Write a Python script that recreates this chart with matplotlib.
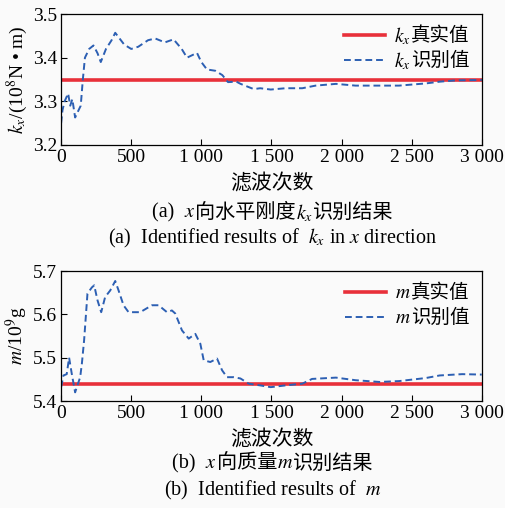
import matplotlib
matplotlib.use("Agg")
import matplotlib.pyplot as plt
import numpy as np

plt.rcParams['font.family'] = ['Liberation Serif', 'Noto Sans CJK SC']
plt.rcParams['mathtext.fontset'] = 'stix'
plt.rcParams['font.size'] = 14

# ---- data ----
kx_true = 3.35
kx_iter = [0, 10, 25, 50, 65, 80, 100, 125, 140, 155, 170, 200, 231, 260, 283, 320, 360, 386,
           450, 500, 550, 620, 671, 740, 802, 860, 898, 969, 1000, 1040, 1100, 1150, 1190, 1250,
           1280, 1374, 1420, 1495, 1600, 1720, 1815, 1960, 2100, 2250, 2410, 2600, 2700, 2815, 3000]
kx_est = [3.25, 3.28, 3.30, 3.318, 3.29, 3.305, 3.263, 3.28, 3.29, 3.35, 3.40, 3.42, 3.428, 3.41,
          3.39, 3.42, 3.44, 3.457, 3.43, 3.42, 3.425, 3.44, 3.444, 3.435, 3.442, 3.42, 3.40, 3.411,
          3.39, 3.373, 3.37, 3.36, 3.344, 3.345, 3.34, 3.328, 3.33, 3.327, 3.33, 3.330, 3.336,
          3.340, 3.336, 3.336, 3.336, 3.341, 3.345, 3.348, 3.349]

m_true = 5.44
m_iter = [0, 17, 40, 57, 76, 100, 110, 136, 148, 164, 188, 219, 236, 260, 286, 314, 350, 386,
          410, 445, 481, 564, 648, 695, 755, 790, 814, 862, 910, 957, 993, 1017, 1064, 1112, 1148,
          1183, 1231, 1279, 1338, 1420, 1495, 1600, 1720, 1790, 1960, 2100, 2270, 2410, 2600,
          2700, 2860, 3000]
m_est = [5.432, 5.459, 5.462, 5.50, 5.463, 5.42, 5.43, 5.455, 5.486, 5.54, 5.648, 5.662, 5.667,
         5.632, 5.605, 5.64, 5.655, 5.677, 5.655, 5.621, 5.605, 5.605, 5.621, 5.621, 5.605, 5.609,
         5.602, 5.563, 5.544, 5.555, 5.532, 5.494, 5.49, 5.498, 5.471, 5.455, 5.455, 5.452, 5.44,
         5.436, 5.432, 5.436, 5.44, 5.451, 5.454, 5.448, 5.444, 5.446, 5.453, 5.459, 5.462, 5.461]

xticks = [0, 500, 1000, 1500, 2000, 2500, 3000]
xticklabels = ['0', '500', '1 000', '1 500', '2 000', '2 500', '3 000']

red = '#e8303a'
blue = '#2c5fb3'
bg = '#fafafa'

fig = plt.figure(figsize=(5.05, 5.08), dpi=100)
fig.patch.set_facecolor(bg)
renderer = fig.canvas.get_renderer()
FS = 14
FS_PX = FS * 100 / 72


def text_width(s, size):
    t = fig.text(0, 0, s, fontsize=size)
    w = t.get_window_extent(renderer=renderer).width
    t.remove()
    return w


def rich_text(xc, yc, pieces, size=14):
    """Draw a horizontal run of text pieces centred at (xc, yc) in figure fraction."""
    texts = []
    widths = []
    W = fig.bbox.width
    for s in pieces:
        t = fig.text(0, yc, s, ha='left', va='center', fontsize=size)
        bb = t.get_window_extent(renderer=renderer)
        texts.append(t)
        widths.append(bb.width / W)
    total = sum(widths)
    x = xc - total / 2
    for t, w in zip(texts, widths):
        t.set_x(x)
        x += w


def setup(ax, ylim, yticks, ylab):
    ax.set_xlim(0, 3000)
    ax.set_ylim(*ylim)
    ax.set_xticks(xticks)
    ax.set_xticklabels(xticklabels)
    ax.set_yticks(yticks)
    ax.set_yticklabels([f'{v:.1f}' for v in yticks])
    ax.tick_params(direction='in', length=4, width=0.8, pad=3)
    ax.set_ylabel(ylab, labelpad=2)
    ax.set_xlabel('滤波次数', labelpad=6, fontsize=15)
    ax.set_facecolor(bg)
    for s in ax.spines.values():
        s.set_linewidth(0.9)


def legend_with_math(ax, prefix):
    w = text_width(prefix, FS)
    leg = ax.legend(loc='upper right', frameon=False, handlelength=2.1, borderaxespad=0.25,
                    labelspacing=0.35, handletextpad=0.45 + w / FS_PX, fontsize=FS)
    fig.canvas.draw()
    for t in leg.get_texts():
        bb = t.get_window_extent(renderer=renderer)
        xf = bb.x0 / fig.bbox.width
        yf = (bb.y0 + bb.y1) / 2 / fig.bbox.height
        fig.text(xf, yf, prefix, ha='right', va='center', fontsize=FS)


dash = (0, (3.5, 2))

ax1 = fig.add_axes([0.121, 0.7146, 0.833, 0.2578])
ax1.plot([0, 3000], [kx_true, kx_true], color=red, lw=2.6, label='真实值')
ax1.plot(kx_iter, kx_est, color=blue, lw=1.4, ls=dash, label='识别值')
setup(ax1, (3.2, 3.5), [3.2, 3.3, 3.4, 3.5], r'$k_x$/(10$^8$N • m)')

ax2 = fig.add_axes([0.121, 0.2106, 0.833, 0.2559])
ax2.plot([0, 3000], [m_true, m_true], color=red, lw=2.6, label='真实值')
ax2.plot(m_iter, m_est, color=blue, lw=1.4, ls=dash, label='识别值')
setup(ax2, (5.4, 5.7), [5.4, 5.5, 5.6, 5.7], r'$m$/10$^9$g')

legend_with_math(ax1, r'$k_x$')
legend_with_math(ax2, r'$m$')

cx = 0.54
rich_text(cx, 1 - 213 / 508, ['(a)  ', r'$x$', '向水平刚度', r'$k_x$', '识别结果'], size=14.5)
rich_text(cx, 1 - 238 / 508, [r'(a)  Identified results of  $k_x$ in $x$ direction'], size=14.5)
rich_text(cx, 1 - 464 / 508, ['(b)  ', r'$x$', '向质量', r'$m$', '识别结果'], size=14.5)
rich_text(cx, 1 - 490 / 508, [r'(b)  Identified results of  $m$'], size=14.5)

fig.savefig('out.png', dpi=100, facecolor=fig.get_facecolor())
